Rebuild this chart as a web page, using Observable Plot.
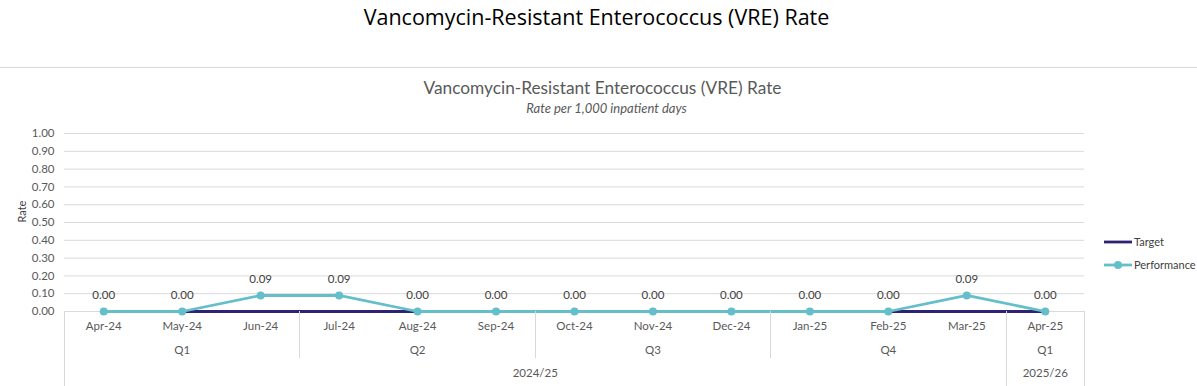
<!DOCTYPE html>
<html>
<head>
<meta charset="utf-8">
<script src="https://cdn.jsdelivr.net/npm/d3@7"></script>
<script src="https://cdn.jsdelivr.net/npm/@observablehq/plot@0.6"></script>
<style>
  html, body { margin: 0; padding: 0; background: #fff; }
  body { width: 1197px; height: 386px; overflow: hidden; position: relative; font-family: Lato, "Open Sans", sans-serif; }
  #title { position: absolute; left: 0; top: 2px; width: 1193px; text-align: center; font-family: "Open Sans", sans-serif; font-size: 21.5px; font-weight: 400; color: #000; }
  #rule { position: absolute; left: 0; top: 67px; width: 1197px; height: 1px; background: #d9d9d9; }
  #ctitle { position: absolute; left: 0; top: 77px; width: 1205px; text-align: center; font-size: 17.3px; color: #595959; }
  #csub { position: absolute; left: 0; top: 100px; width: 1213px; text-align: center; font-size: 13px; font-style: italic; color: #595959; }
  #chart { position: absolute; left: 0; top: 0; }
  #legend { position: absolute; left: 1104px; top: 230px; font-size: 11px; color: #404040; }
  .li { display: flex; align-items: center; height: 23px; }
  .li svg { margin-right: 1px; }
</style>
</head>
<body>
<div id="chart"></div>
<div id="title">Vancomycin-Resistant Enterococcus (VRE) Rate</div>
<div id="rule"></div>
<div id="ctitle">Vancomycin-Resistant Enterococcus (VRE) Rate</div>
<div id="csub">Rate per 1,000 inpatient days</div>
<div id="legend"></div>
<script>
const months = ["Apr-24","May-24","Jun-24","Jul-24","Aug-24","Sep-24","Oct-24","Nov-24","Dec-24","Jan-25","Feb-25","Mar-25","Apr-25"];
const quarters = ["Q1","Q1","Q1","Q2","Q2","Q2","Q3","Q3","Q3","Q4","Q4","Q4","Q1"];
const years = ["2024/25","2024/25","2024/25","2024/25","2024/25","2024/25","2024/25","2024/25","2024/25","2024/25","2024/25","2024/25","2025/26"];
const performance = [0.00,0.00,0.09,0.09,0.00,0.00,0.00,0.00,0.00,0.00,0.00,0.09,0.00];
const target = [0,0,0,0,0,0,0,0,0,0,0,0,0];
const yTicks = [0,0.1,0.2,0.3,0.4,0.5,0.6,0.7,0.8,0.9,1.0];

const perfColor = "#65bfca";
const targetColor = "#2e2372";

const rows = months.map((m, i) => ({i, month: m, quarter: quarters[i], year: years[i], perf: performance[i], target: target[i]}));

// group consecutive runs
function runs(keyFn) {
  const out = [];
  rows.forEach((r, i) => {
    const k = keyFn(r);
    if (out.length && out[out.length - 1].key === k) out[out.length - 1].end = i;
    else out.push({key: k, label: k.split("|").pop(), start: i, end: i});
  });
  out.forEach(g => g.mid = (g.start + g.end) / 2);
  return out;
}
const qGroups = runs(r => r.year + "|" + r.quarter);
const yGroups = runs(r => r.year);

const plot = Plot.plot({
  width: 1197,
  height: 386,
  marginLeft: 64,
  marginRight: 113,
  marginTop: 133,
  marginBottom: 75,
  style: {fontFamily: "Lato, 'Open Sans', sans-serif", fontSize: "11px", color: "#595959", background: "transparent"},
  x: {type: "linear", domain: [-0.5, months.length - 0.5], axis: null},
  y: {domain: [0, 1], axis: null},
  marks: [
    Plot.gridY(yTicks, {stroke: "#d9d9d9", strokeOpacity: 1, strokeWidth: 1}),
    Plot.axisY(yTicks, {tickSize: 0, tickPadding: 10, tickFormat: d3.format(".2f"), fill: "#595959", fontSize: 11.5, label: null}),
    Plot.text(["Rate"], {frameAnchor: "left", dx: -42, rotate: -90, fill: "#404040", fontSize: 11}),
    Plot.ruleY([0], {stroke: "#d9d9d9", strokeWidth: 1}),
    Plot.line(rows, {x: "i", y: "target", stroke: targetColor, strokeWidth: 2.8}),
    Plot.line(rows, {x: "i", y: "perf", stroke: perfColor, strokeWidth: 2.8}),
    Plot.dot(rows, {x: "i", y: "perf", fill: perfColor, r: 4}),
    Plot.text(rows, {x: "i", y: "perf", text: d => d3.format(".2f")(d.perf), dy: -16, fill: "#404040", fontSize: 11.5}),
    Plot.text(rows, {x: "i", y: 0, text: "month", dy: 15, fill: "#595959", fontSize: 11.5}),
    Plot.text(qGroups, {x: "mid", y: 0, text: "label", dy: 39, fill: "#595959", fontSize: 11.5}),
    Plot.text(yGroups, {x: "mid", y: 0, text: "label", dy: 62, fill: "#595959", fontSize: 11.5})
  ]
});
document.getElementById("chart").appendChild(plot);

// category separators using the plot's x scale
const xs = plot.scale("x");
const svg = d3.select(plot);
const y0 = 311;
const qBounds = new Set();
qGroups.forEach(g => { qBounds.add(g.start - 0.5); qBounds.add(g.end + 0.5); });
const yBounds = new Set();
yGroups.forEach(g => { yBounds.add(g.start - 0.5); yBounds.add(g.end + 0.5); });
const gSep = svg.append("g").attr("stroke", "#d9d9d9").attr("stroke-width", 1);
[...qBounds].forEach(b => {
  const x = Math.round(xs.apply(b)) + 0.5;
  const full = yBounds.has(b);
  gSep.append("line").attr("x1", x).attr("x2", x).attr("y1", y0).attr("y2", full ? 386 : 358);
});

// legend
const legend = d3.select("#legend");
[["Target", targetColor, false], ["Performance", perfColor, true]].forEach(([name, c, dot]) => {
  const item = legend.append("div").attr("class", "li");
  const s = item.append("svg").attr("width", 29).attr("height", 10);
  s.append("line").attr("x1", 0).attr("x2", 28).attr("y1", 5).attr("y2", 5).attr("stroke", c).attr("stroke-width", 2.8);
  if (dot) s.append("circle").attr("cx", 14).attr("cy", 5).attr("r", 4).attr("fill", c);
  item.append("span").text(name);
});
</script>
</body>
</html>
